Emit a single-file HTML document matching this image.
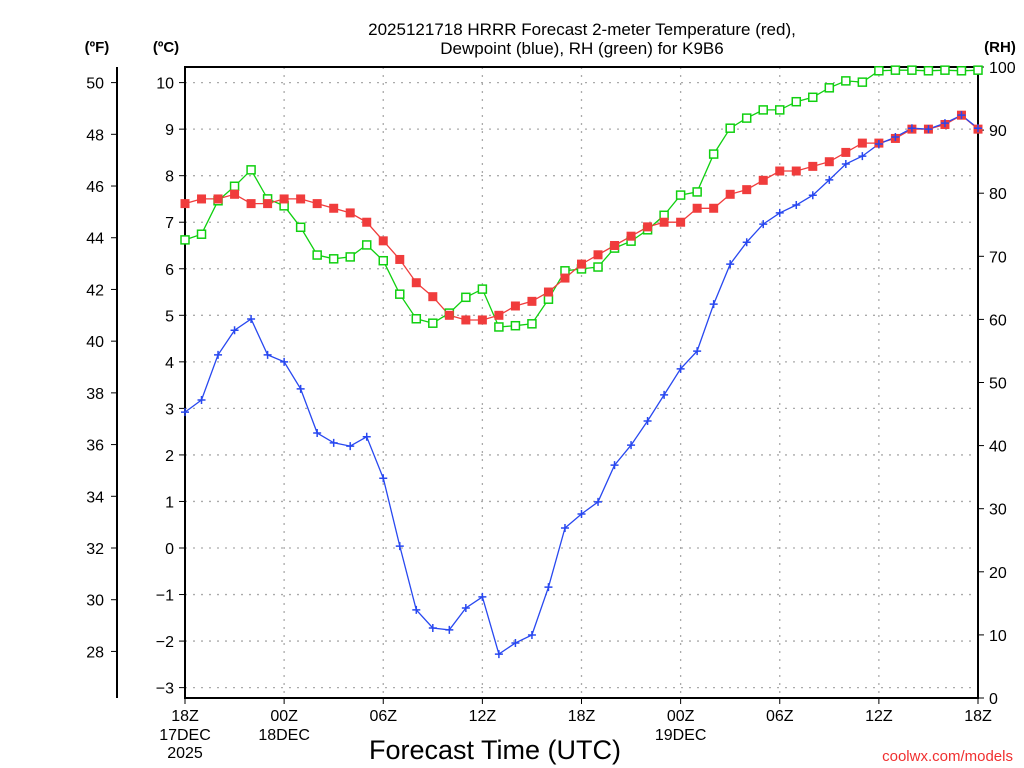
<!DOCTYPE html>
<html><head><meta charset="utf-8"><style>
html,body{margin:0;padding:0;background:#fff;}
svg{display:block;font-family:"Liberation Sans",sans-serif;}
</style></head><body>
<svg id="chart" width="1024" height="768" xmlns="http://www.w3.org/2000/svg">
<rect width="1024" height="768" fill="#fff"/>
<g id="grid"></g>
<g id="axes"></g>
<g id="series"></g>
<text x="582" y="35" font-size="17" text-anchor="middle">2025121718 HRRR Forecast 2-meter Temperature (red),</text>
<text x="582" y="54" font-size="17" text-anchor="middle">Dewpoint (blue), RH (green) for K9B6</text>
<text x="97" y="52" font-size="15" font-weight="bold" text-anchor="middle">(ºF)</text>
<text x="166" y="52" font-size="15" font-weight="bold" text-anchor="middle">(ºC)</text>
<text x="1000" y="52" font-size="15" font-weight="bold" text-anchor="middle">(RH)</text>
<text x="495" y="759" font-size="27" text-anchor="middle">Forecast Time (UTC)</text>
<text x="1013" y="761" font-size="15" fill="#f03030" text-anchor="end">coolwx.com/models</text>
</svg>
<script>
const temp=[7.4,7.5,7.5,7.6,7.4,7.4,7.5,7.5,7.4,7.3,7.2,7.0,6.6,6.2,5.7,5.4,5.0,4.9,4.9,5.0,5.2,5.3,5.5,5.8,6.1,6.3,6.5,6.7,6.9,7.0,7.0,7.3,7.3,7.6,7.7,7.9,8.1,8.1,8.2,8.3,8.5,8.7,8.7,8.8,9.0,9.0,9.1,9.3,9.0];
const dewp=[2.92,3.18,4.15,4.68,4.92,4.15,4.0,3.42,2.47,2.26,2.19,2.39,1.5,0.04,-1.33,-1.72,-1.76,-1.29,-1.05,-2.28,-2.04,-1.87,-0.84,0.43,0.73,0.99,1.78,2.21,2.73,3.29,3.85,4.23,5.24,6.1,6.57,6.96,7.2,7.37,7.58,7.91,8.25,8.42,8.68,8.83,9.02,9.0,9.13,9.3,9.02];
const rh=[72.6,73.5,78.8,81.1,83.7,79.1,78.0,74.6,70.2,69.6,69.9,71.8,69.3,64.0,60.1,59.4,61.0,63.5,64.8,58.8,59.0,59.3,63.2,67.7,68.0,68.3,71.3,72.4,74.2,76.5,79.7,80.2,86.2,90.3,91.9,93.2,93.2,94.5,95.2,96.7,97.8,97.6,99.4,99.5,99.5,99.4,99.5,99.4,99.5];
const cTicks=[-3,-2,-1,0,1,2,3,4,5,6,7,8,9,10];
const fTicks=[28,30,32,34,36,38,40,42,44,46,48,50];
const rhTicks=[0,10,20,30,40,50,60,70,80,90,100];
const xTickHours=[0,6,12,18,24,30,36,42,48];
const xTickLabels=["18Z","00Z","06Z","12Z","18Z","00Z","06Z","12Z","18Z"];
const xTickDates=["17DEC","18DEC","","","","19DEC","","",""];
const xTickYears=["2025","","","","","","","",""];

const NS="http://www.w3.org/2000/svg";
const L=185,R=978,T=67,B=698;
const xs=h=>L+(R-L)*h/48;
const yc=c=>548-c*46.54;
const yf=f=>yc((f-32)*5/9);
const yr=r=>B-(B-T)*r/100;
function mk(tag,attrs,parent){const e=document.createElementNS(NS,tag);for(const k in attrs)e.setAttribute(k,attrs[k]);parent.appendChild(e);return e;}
const grid=document.getElementById('grid'),axes=document.getElementById('axes'),ser=document.getElementById('series');

cTicks.forEach(c=>{
  const y=yc(c);
  const g=mk('line',{x1:L,x2:R,y1:y,y2:y,stroke:'#aaa','stroke-width':1.3,'stroke-dasharray':'2,6'},grid);
  
  
  const tk=mk('line',{x1:L-6,x2:L,y1:y,y2:y,stroke:'#000','stroke-width':1},axes);
  
  
  const t=mk('text',{x:L-11,y:y+6,'font-size':16,'text-anchor':'end'},axes);t.textContent=(c<0?'−'+(-c):c);
  
  
});
fTicks.forEach(f=>{
  const y=yf(f);
  const tk=mk('line',{x1:111,x2:117,y1:y,y2:y,stroke:'#000','stroke-width':1},axes);
  
  
  const t=mk('text',{x:104,y:y+6,'font-size':16,'text-anchor':'end'},axes);t.textContent=f;
  
  
});
rhTicks.forEach(r=>{
  const y=yr(r);
  const tk=mk('line',{x1:R,x2:R+6,y1:y,y2:y,stroke:'#000','stroke-width':1},axes);
  
  
  const t=mk('text',{x:989,y:y+6,'font-size':16,'text-anchor':'start'},axes);t.textContent=r;
  
  
});
xTickHours.forEach((h,i)=>{
  const x=xs(h);
  if(i>0&&i<8){const g=mk('line',{x1:x,x2:x,y1:T,y2:B,stroke:'#aaa','stroke-width':1.3,'stroke-dasharray':'2,6'},grid);
  
  }
  const tk=mk('line',{x1:x,x2:x,y1:B,y2:B+6,stroke:'#000','stroke-width':1},axes);
  
  
  [[xTickLabels[i],721],[xTickDates[i],740],[xTickYears[i],758]].forEach(([s,y])=>{
    if(!s)return;
    const t=mk('text',{x:x,y:y,'font-size':16,'text-anchor':'middle'},axes);t.textContent=s;
    
    
  });
});
const fr=mk('rect',{x:L,y:T,width:R-L,height:B-T,fill:'none',stroke:'#000','stroke-width':2},axes);


const fa=mk('line',{x1:117,x2:117,y1:T,y2:B,stroke:'#000','stroke-width':2},axes);



function line(vals,yfn,color,name){
  const pts=vals.map((v,i)=>xs(i).toFixed(1)+','+yfn(v).toFixed(1)).join(' ');
  const p=mk('polyline',{points:pts,fill:'none',stroke:color,'stroke-width':1.3},ser);
  
  
}
line(rh,yr,'#10d010','rh-line');
line(temp,yc,'#f03c3c','temperature-line');
line(dewp,yc,'#2848f0','dewpoint-line');
rh.forEach((v,i)=>{
  const m=mk('rect',{x:xs(i)-4,y:yr(v)-4,width:8,height:8,fill:'#fff',stroke:'#10d010','stroke-width':1.5},ser);
  
  
});
temp.forEach((v,i)=>{
  const m=mk('rect',{x:xs(i)-4.5,y:yc(v)-4.5,width:9,height:9,fill:'#f03c3c'},ser);
  
  
});
dewp.forEach((v,i)=>{
  const x=xs(i),y=yc(v);
  const m=mk('path',{d:`M${x-4},${y}H${x+4}M${x},${y-4}V${y+4}`,stroke:'#2848f0','stroke-width':1.5},ser);
  
  
});
</script>
</body></html>
